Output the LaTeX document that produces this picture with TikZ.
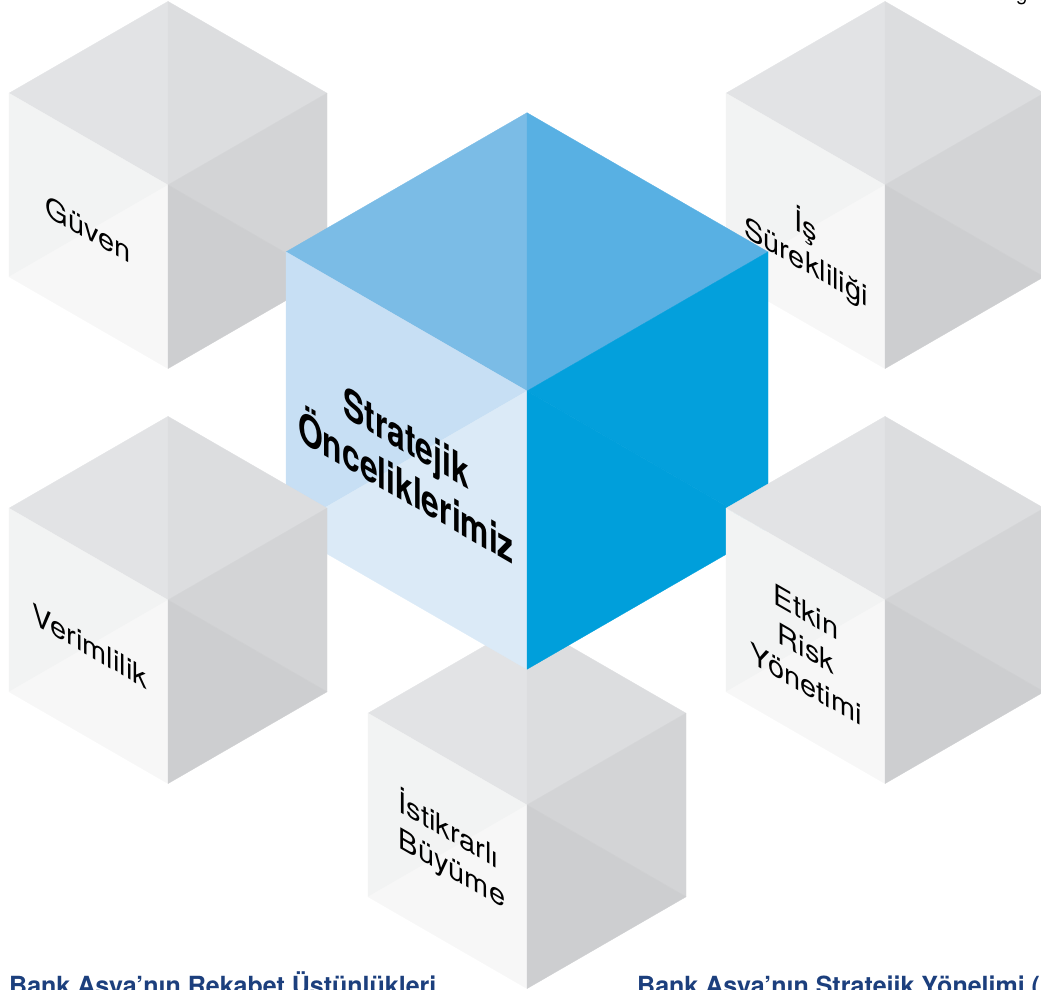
\documentclass[tikz,border=0pt]{standalone}
\usepackage{fontspec}
\setmainfont{TeX Gyre Heros}
\newfontfamily\condfont[FakeStretch=0.74]{TeX Gyre Heros}

\definecolor{greytopa}{HTML}{E2E3E5}
\definecolor{greytopb}{HTML}{DCDDDF}
\definecolor{greylefta}{HTML}{F2F3F3}
\definecolor{greyleftb}{HTML}{F7F7F7}
\definecolor{greyrighta}{HTML}{D3D4D6}
\definecolor{greyrightb}{HTML}{CDCED0}
\definecolor{bluetopa}{HTML}{7BBCE6}
\definecolor{bluetopb}{HTML}{58B0E3}
\definecolor{bluelefta}{HTML}{C7DFF4}
\definecolor{blueleftb}{HTML}{DBEAF7}
\definecolor{bluerighta}{HTML}{03A0DC}
\definecolor{bluerightb}{HTML}{009FDB}
\definecolor{titleblue}{RGB}{28,63,125}

\tikzset{
  facet/.style={fill=#1, draw=#1, line width=0.3pt, line join=round},
  cubelabel/.style={yslant=-0.5774, align=center, inner sep=0pt,
    font=\fontsize{29}{36}\selectfont},
  mainlabel/.style={yslant=-0.5774, align=center, inner sep=0pt,
    font=\condfont\bfseries\fontsize{43}{46}\selectfont},
  titlelabel/.style={anchor=base west, inner sep=0pt, text=titleblue,
    font=\bfseries\fontsize{25}{25}\selectfont}
}

\begin{document}
\begin{tikzpicture}[x=1pt,y=-1pt]
                \useasboundingbox (0,0) rectangle (1041,989);
                \clip (0,0) rectangle (1041,989);

                % Drawing cube Guven
                \begin{scope}[shift={(168,185)}]
                \fill [facet=greytopa] (0,-183.6) -- (-159,-91.8) -- (0,0) -- cycle;%
                \fill [facet=greytopb] (0,-183.6) -- (159,-91.8) -- (0,0) -- cycle;%
                \fill [facet=greylefta] (-159,-91.8) -- (0,0) -- (-159,91.8) -- cycle;%
                \fill [facet=greyleftb] (-159,91.8) -- (0,0) -- (0,183.6) -- cycle;%
                \fill [facet=greyrighta] (0,0) -- (159,-91.8) -- (159,91.8) -- cycle;%
                \fill [facet=greyrightb] (0,0) -- (159,91.8) -- (0,183.6) -- cycle;%
                \end{scope}

                % Drawing cube Is Surekliligi
                \begin{scope}[shift={(885,185)}]
                \fill [facet=greytopa] (0,-183.6) -- (-159,-91.8) -- (0,0) -- cycle;%
                \fill [facet=greytopb] (0,-183.6) -- (159,-91.8) -- (0,0) -- cycle;%
                \fill [facet=greylefta] (-159,-91.8) -- (0,0) -- (-159,91.8) -- cycle;%
                \fill [facet=greyleftb] (-159,91.8) -- (0,0) -- (0,183.6) -- cycle;%
                \fill [facet=greyrighta] (0,0) -- (159,-91.8) -- (159,91.8) -- cycle;%
                \fill [facet=greyrightb] (0,0) -- (159,91.8) -- (0,183.6) -- cycle;%
                \end{scope}

                % Drawing cube Istikrarli Buyume
                \begin{scope}[shift={(527,805)}]
                \fill [facet=greytopa] (0,-183.6) -- (-159,-91.8) -- (0,0) -- cycle;%
                \fill [facet=greytopb] (0,-183.6) -- (159,-91.8) -- (0,0) -- cycle;%
                \fill [facet=greylefta] (-159,-91.8) -- (0,0) -- (-159,91.8) -- cycle;%
                \fill [facet=greyleftb] (-159,91.8) -- (0,0) -- (0,183.6) -- cycle;%
                \fill [facet=greyrighta] (0,0) -- (159,-91.8) -- (159,91.8) -- cycle;%
                \fill [facet=greyrightb] (0,0) -- (159,91.8) -- (0,183.6) -- cycle;%
                \end{scope}

                % Drawing the blue cube in the middle
                \begin{scope}[shift={(527,391)}, scale=1.5157]
                \fill [facet=bluetopa] (0,-183.6) -- (-159,-91.8) -- (0,0) -- cycle;%
                \fill [facet=bluetopb] (0,-183.6) -- (159,-91.8) -- (0,0) -- cycle;%
                \fill [facet=bluelefta] (-159,-91.8) -- (0,0) -- (-159,91.8) -- cycle;%
                \fill [facet=blueleftb] (-159,91.8) -- (0,0) -- (0,183.6) -- cycle;%
                \fill [facet=bluerighta] (0,0) -- (159,-91.8) -- (159,91.8) -- cycle;%
                \fill [facet=bluerightb] (0,0) -- (159,91.8) -- (0,183.6) -- cycle;%
                \end{scope}

                % Drawing cube Verimlilik
                \begin{scope}[shift={(168,600)}]
                \fill [facet=greytopa] (0,-183.6) -- (-159,-91.8) -- (0,0) -- cycle;%
                \fill [facet=greytopb] (0,-183.6) -- (159,-91.8) -- (0,0) -- cycle;%
                \fill [facet=greylefta] (-159,-91.8) -- (0,0) -- (-159,91.8) -- cycle;%
                \fill [facet=greyleftb] (-159,91.8) -- (0,0) -- (0,183.6) -- cycle;%
                \fill [facet=greyrighta] (0,0) -- (159,-91.8) -- (159,91.8) -- cycle;%
                \fill [facet=greyrightb] (0,0) -- (159,91.8) -- (0,183.6) -- cycle;%
                \end{scope}

                % Drawing cube Etkin Risk Yonetimi
                \begin{scope}[shift={(885,600)}]
                \fill [facet=greytopa] (0,-183.6) -- (-159,-91.8) -- (0,0) -- cycle;%
                \fill [facet=greytopb] (0,-183.6) -- (159,-91.8) -- (0,0) -- cycle;%
                \fill [facet=greylefta] (-159,-91.8) -- (0,0) -- (-159,91.8) -- cycle;%
                \fill [facet=greyleftb] (-159,91.8) -- (0,0) -- (0,183.6) -- cycle;%
                \fill [facet=greyrighta] (0,0) -- (159,-91.8) -- (159,91.8) -- cycle;%
                \fill [facet=greyrightb] (0,0) -- (159,91.8) -- (0,183.6) -- cycle;%
                \end{scope}

                % Marking the cube labels
                \node [cubelabel] (guven) at (88,229) {Güven};%
                \node [cubelabel] (surek) at (806,244) {İş\\Sürekliliği};%
                \node [cubelabel] (verim) at (90,646) {Verimlilik};%
                \node [cubelabel] (etkin) at (806,648) {Etkin\\Risk\\Yönetimi};%
                \node [cubelabel, align=left] (istik) at (452,850) {İstikrarlı\\Büyüme};%
                \node [mainlabel] (strat) at (406,462) {Stratejik\\Önceliklerimiz};%

                % Marking the titles under the cubes
                \node [titlelabel] (rekabet) at (9,994) {Bank Asya’nın Rekabet Üstünlükleri};%
                \node [titlelabel] (yonelim) at (637,994) {Bank Asya’nın Stratejik Yönelimi (};%

                % Marking the header letter
                \node [anchor=base, inner sep=0pt, font=\fontsize{20}{20}\selectfont] (header) at (1022,0) {g};%
\end{tikzpicture}
\end{document}
